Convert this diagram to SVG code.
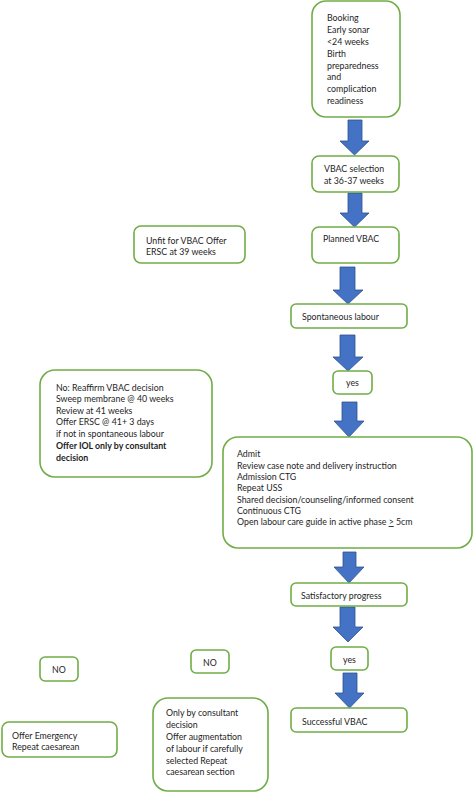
<svg xmlns="http://www.w3.org/2000/svg" width="474" height="793" viewBox="0 0 474 793">
<style>
.box{fill:#fff;stroke:#70AD47;stroke-width:1.6}
.arr{fill:#4472C4;stroke:#2F528F;stroke-width:0.8}
text{font-family:Lato,"Liberation Sans",sans-serif;font-size:8.8px;fill:#1e1e1e}
.b{font-weight:bold}
</style>
<rect width="474" height="793" fill="#fff"/>
<g id="connectors">
<path class="arr" d="M348,120 H362 V141 H369 L354.5,155 L340,141 H348 Z"/>
<path class="arr" d="M348,193 H362 V213 H369 L354.5,227 L340,213 H348 Z"/>
<path class="arr" d="M340,267 H355 V290 H363 L348,304 L333,290 H340 Z"/>
<path class="arr" d="M340,335 H355 V357 H363 L348,371 L333,357 H340 Z"/>
<path class="arr" d="M342,402 H357 V421 H364 L349,437 L334,421 H342 Z"/>
<path class="arr" d="M343,552 H356 V567 H364 L349,583 L334,567 H343 Z"/>
<path class="arr" d="M340,607 H355 V627 H363 L348,642 L333,627 H340 Z"/>
<path class="arr" d="M343,673 H357 V693 H364 L349.5,708 L335,693 H343 Z"/>
</g>
<g id="booking">
<rect class="box" x="312" y="1" width="88" height="116" rx="14"/>
<text x="327" y="21">Booking</text>
<text x="327" y="33">Early sonar</text>
<text x="327" y="45">&lt;24 weeks</text>
<text x="327" y="57">Birth</text>
<text x="327" y="69">preparedness</text>
<text x="327" y="80">and</text>
<text x="327" y="92">complication</text>
<text x="327" y="104">readiness</text>
</g>
<g id="selection">
<rect class="box" x="312" y="156" width="87" height="36" rx="7"/>
<text x="324" y="172">VBAC selection</text>
<text x="324" y="184">at 36-37 weeks</text>
</g>
<g id="planned">
<rect class="box" x="312" y="227" width="87" height="36" rx="7"/>
<text x="323" y="242">Planned VBAC</text>
</g>
<g id="unfit">
<rect class="box" x="134" y="226" width="111" height="37" rx="7"/>
<text x="146" y="244">Unfit for VBAC Offer</text>
<text x="146" y="255">ERSC at 39 weeks</text>
</g>
<g id="spontaneous">
<rect class="box" x="291" y="304" width="116" height="24" rx="5"/>
<text x="302" y="320">Spontaneous labour</text>
</g>
<g id="yes1">
<rect class="box" x="333" y="371" width="39" height="23" rx="5"/>
<text x="352.5" y="386" text-anchor="middle">yes</text>
</g>
<g id="reaffirm">
<rect class="box" x="40" y="370" width="172" height="107" rx="15"/>
<text x="56" y="391">No: Reaffirm VBAC decision</text>
<text x="56" y="402">Sweep membrane @ 40 weeks</text>
<text x="56" y="414">Review at 41 weeks</text>
<text x="56" y="425">Offer ERSC @ 41+ 3 days</text>
<text x="56" y="437">if not in spontaneous labour</text>
<text x="56" y="449" class="b">Offer IOL only by consultant</text>
<text x="56" y="461" class="b">decision</text>
</g>
<g id="admit">
<rect class="box" x="223" y="437" width="249" height="111" rx="15"/>
<text x="237" y="457">Admit</text>
<text x="237" y="469">Review case note and delivery instruction</text>
<text x="237" y="480">Admission CTG</text>
<text x="237" y="491">Repeat USS</text>
<text x="237" y="503">Shared decision/counseling/informed consent</text>
<text x="237" y="514">Continuous CTG</text>
<text x="237" y="525">Open labour care guide in active phase <tspan text-decoration="underline">&gt;</tspan> 5cm</text>
</g>
<g id="satisfactory">
<rect class="box" x="291" y="583" width="116" height="23" rx="5"/>
<text x="301" y="599">Satisfactory progress</text>
</g>
<g id="yes2">
<rect class="box" x="331" y="647" width="37" height="23" rx="5"/>
<text x="349.5" y="663" text-anchor="middle">yes</text>
</g>
<g id="successful">
<rect class="box" x="291" y="708" width="116" height="24" rx="5"/>
<text x="302" y="725">Successful VBAC</text>
</g>
<g id="no1">
<rect class="box" x="40" y="657" width="38" height="24" rx="5"/>
<text x="59" y="673" text-anchor="middle">NO</text>
</g>
<g id="no2">
<rect class="box" x="191" y="650" width="38" height="23" rx="5"/>
<text x="210" y="666" text-anchor="middle">NO</text>
</g>
<g id="emergency">
<rect class="box" x="2" y="722" width="115" height="35" rx="7"/>
<text x="12" y="739">Offer Emergency</text>
<text x="12" y="750">Repeat caesarean</text>
</g>
<g id="consultant">
<rect class="box" x="153" y="698" width="115" height="93" rx="15"/>
<text x="166" y="716">Only by consultant</text>
<text x="166" y="728">decision</text>
<text x="166" y="740">Offer augmentation</text>
<text x="166" y="752">of labour if carefully</text>
<text x="166" y="764">selected Repeat</text>
<text x="166" y="775">caesarean section</text>
</g>
</svg>
